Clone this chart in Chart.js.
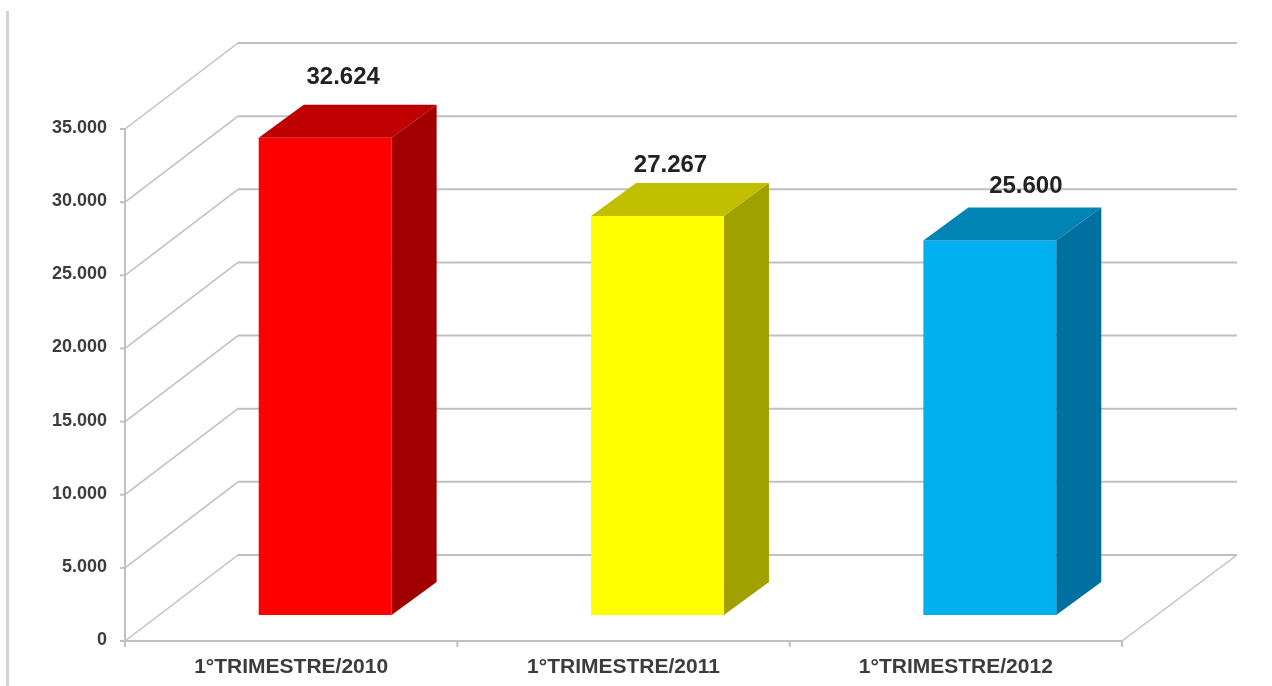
<!DOCTYPE html>
<html>
<head>
<meta charset="utf-8">
<title>1° Trimestre</title>
<script src="https://cdn.jsdelivr.net/npm/chart.js@4"></script>
<style>
  html, body { margin: 0; padding: 0; background: #fff; }
  #wrap { position: relative; width: 1272px; height: 686px; overflow: hidden; }
  #edge { position: absolute; left: 6px; top: 11px; width: 3px; bottom: 0; background: #d4d4d4; }
</style>
</head>
<body>
<div id="wrap">
  <div id="edge"></div>
  <canvas id="chart" width="1272" height="686"></canvas>
</div>
<script>
// values
const categories = ['1°TRIMESTRE/2010', '1°TRIMESTRE/2011', '1°TRIMESTRE/2012'];
const values = [32624, 27267, 25600];
const yMax = 35000;
const yStep = 5000;

const frontColors = ['#ff0000', '#ffff00', '#00b0f0'];
const topColors = ['#c00000', '#c0c000', '#0084b4'];
const sideColors = ['#a00000', '#a0a000', '#0070a0'];

// how the value labels sit against each bar's top
const labelShiftX = [18, 13, 36];
const labelShiftY = [27, 18, 21];

const gridColor = '#c0c0c0';
const textColor = '#3c3c3c';
const fontFamily = '"Liberation Sans", Arial, sans-serif';

// fake 3D: bar plane sits inside the floor, walls go further back
const planeDx = 34, planeDy = 26;
const wallDx = 113, wallDy = 86;
const barDx = 45, barDy = 33;

function formatNumber(v) {
  return String(v).replace(/\B(?=(\d{3})+$)/g, '.');
}

function line(ctx, x1, y1, x2, y2, width) {
  ctx.lineWidth = width;
  ctx.beginPath();
  ctx.moveTo(x1, y1);
  ctx.lineTo(x2, y2);
  ctx.stroke();
}

function poly(ctx, pts, color) {
  ctx.fillStyle = color;
  ctx.beginPath();
  pts.forEach(function (p, i) {
    if (i === 0) ctx.moveTo(p[0], p[1]);
    else ctx.lineTo(p[0], p[1]);
  });
  ctx.closePath();
  ctx.fill();
}

const walls = {
  id: 'walls',
  beforeDatasetsDraw(chart) {
    const ctx = chart.ctx;
    const x = chart.scales.x;
    const y = chart.scales.y;
    const left = x.left - planeDx;
    const right = x.right - planeDx;
    const bottom = y.getPixelForValue(0) + planeDy;
    const top = y.getPixelForValue(yMax) + planeDy;

    ctx.save();
    ctx.strokeStyle = gridColor;

    // gridlines on side wall and back wall, plus small ticks
    y.ticks.forEach(function (t) {
      const py = y.getPixelForValue(t.value) + planeDy;
      line(ctx, left - 5, py, left, py, 2);
      line(ctx, left, py, left + wallDx, py - wallDy, 1.5);
      line(ctx, left + wallDx, py - wallDy, right + wallDx + 2, py - wallDy, 2);
    });

    // front axis and floor
    line(ctx, left, top, left, bottom + 5, 2);
    line(ctx, left, bottom, right, bottom, 2);
    line(ctx, right, bottom, right + wallDx + 2, bottom - wallDy, 1.5);

    const n = categories.length;
    for (let i = 0; i <= n; i++) {
      const tx = left + (right - left) * i / n;
      line(ctx, tx, bottom, tx, bottom + 6, 2);
    }
    ctx.restore();
  },
  afterDatasetsDraw(chart) {
    const ctx = chart.ctx;
    const bars = chart.getDatasetMeta(0).data;
    ctx.save();
    bars.forEach(function (bar, i) {
      const half = bar.width / 2;
      const l = bar.x - half;
      const r = bar.x + half;
      const t = bar.y;
      const b = bar.base;
      poly(ctx, [[l, t], [r, t], [r + barDx, t - barDy], [l + barDx, t - barDy]], topColors[i]);
      poly(ctx, [[r, t], [r + barDx, t - barDy], [r + barDx, b - barDy], [r, b]], sideColors[i]);

      ctx.fillStyle = '#222222';
      ctx.font = 'bold 24px ' + fontFamily;
      ctx.textAlign = 'center';
      ctx.textBaseline = 'middle';
      ctx.fillText(formatNumber(values[i]), bar.x + labelShiftX[i], t - barDy - labelShiftY[i]);
    });
    ctx.restore();
  }
};

new Chart(document.getElementById('chart').getContext('2d'), {
  type: 'bar',
  data: {
    labels: categories,
    datasets: [{
      data: values,
      backgroundColor: frontColors,
      borderWidth: 0,
      categoryPercentage: 1,
      barPercentage: 0.4
    }]
  },
  options: {
    responsive: false,
    animation: false,
    layout: { padding: { top: 103, right: 116, left: 0, bottom: 0 } },
    plugins: {
      legend: { display: false },
      tooltip: { enabled: false }
    },
    scales: {
      x: {
        grid: { display: false, drawTicks: false },
        border: { display: false },
        afterFit(scale) { scale.height = 71; },
        ticks: {
          color: textColor,
          font: { family: fontFamily, size: 21, weight: 'bold' },
          padding: 40,
          labelOffset: -planeDx,
          maxRotation: 0,
          autoSkip: false
        }
      },
      y: {
        min: 0,
        max: yMax,
        grid: { display: false, drawTicks: false },
        border: { display: false },
        afterFit(scale) { scale.width = 159; },
        ticks: {
          stepSize: yStep,
          color: textColor,
          font: { family: fontFamily, size: 18, weight: 'bold' },
          padding: 52,
          labelOffset: planeDy - 1,
          callback: function (v) { return formatNumber(v); }
        }
      }
    }
  },
  plugins: [walls]
});
</script>
</body>
</html>
